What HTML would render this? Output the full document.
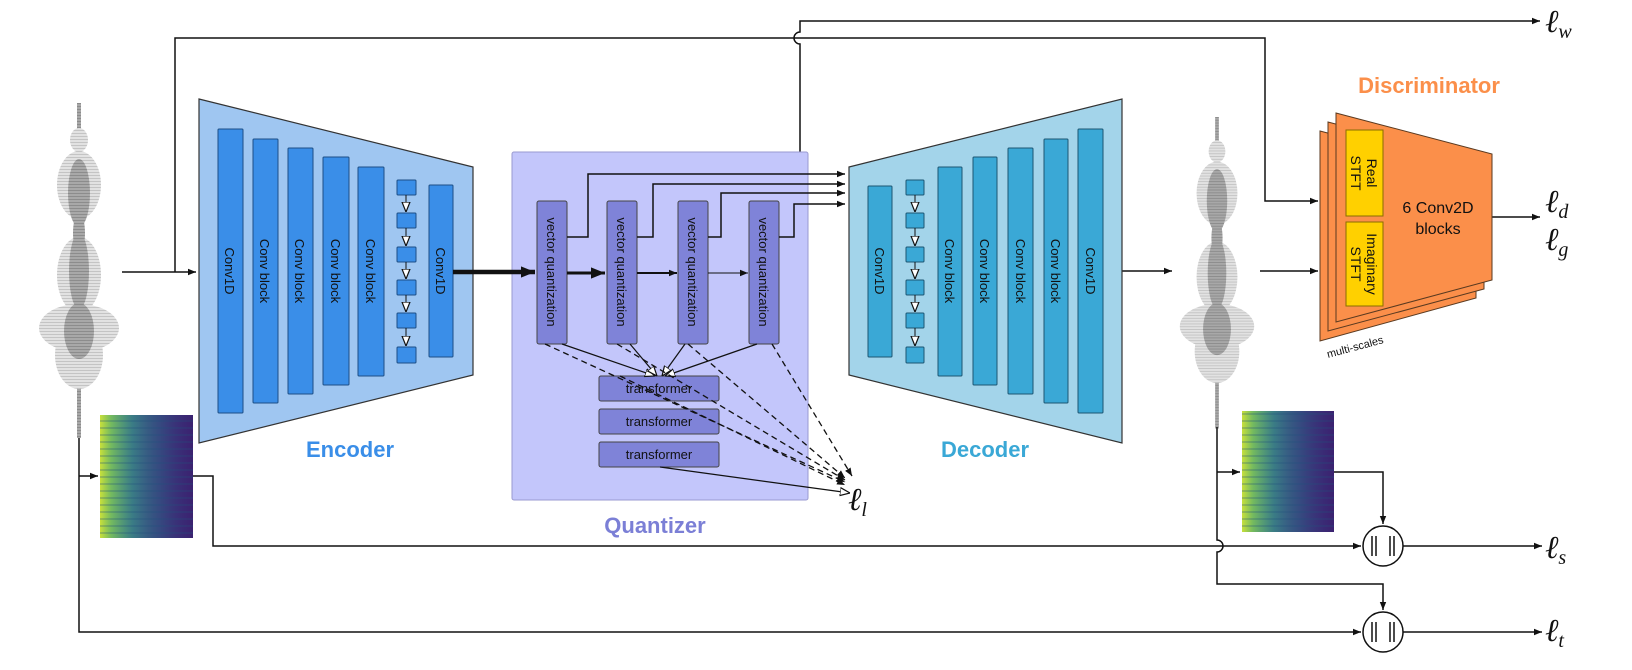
<!DOCTYPE html>
<html><head><meta charset="utf-8"><style>
html,body{margin:0;padding:0;background:#fff;}
svg{display:block;}
.t{font-family:"Liberation Sans",sans-serif;}
.l{font-family:"Liberation Serif",serif;font-style:italic;}
</style></head><body>
<svg width="1632" height="670" viewBox="0 0 1632 670" xmlns="http://www.w3.org/2000/svg">
<defs>
<marker id="a" viewBox="0 0 10 10" refX="10" refY="5" markerWidth="8" markerHeight="8" markerUnits="userSpaceOnUse" orient="auto"><path d="M0,1 L10,5 L0,9 z" fill="#111"/></marker>
<marker id="a2" viewBox="0 0 10 10" refX="10" refY="5" markerWidth="14" markerHeight="14" markerUnits="userSpaceOnUse" orient="auto"><path d="M0,1 L10,5 L0,9 z" fill="#111"/></marker>
<marker id="ah" viewBox="0 0 10 10" refX="10" refY="5" markerWidth="10" markerHeight="10" markerUnits="userSpaceOnUse" orient="auto"><path d="M0,1 L10,5 L0,9 z" fill="#fff" stroke="#111" stroke-width="1.2"/></marker>
<pattern id="st" width="4" height="3" patternUnits="userSpaceOnUse"><rect width="4" height="3" fill="#e2e2e2"/><rect width="4" height="1" fill="#c4c4c4"/></pattern>
<pattern id="st2" width="4" height="3" patternUnits="userSpaceOnUse"><rect width="4" height="3" fill="#a8a8a8"/><rect width="4" height="1" fill="#8c8c8c"/></pattern>
<linearGradient id="sg" x1="0" x2="1" y1="0" y2="0">
<stop offset="0" stop-color="#c8e03a"/><stop offset="0.12" stop-color="#7ccc5a"/><stop offset="0.35" stop-color="#3aa58a"/><stop offset="0.65" stop-color="#2d7f8e"/><stop offset="1" stop-color="#3b3b83"/></linearGradient>
<linearGradient id="sd" x1="0" x2="1" y1="0" y2="0">
<stop offset="0" stop-color="#3b3b83" stop-opacity="0"/><stop offset="0.5" stop-color="#3b2a7a" stop-opacity="0.5"/><stop offset="1" stop-color="#3b1f6e" stop-opacity="0.9"/></linearGradient>
<pattern id="sp" width="10" height="7" patternUnits="userSpaceOnUse"><rect width="10" height="2" fill="#1e4f7a" opacity="0.25"/></pattern>
<g id="wave">
<rect x="-2" y="0" width="4" height="335" fill="url(#st2)"/>
<ellipse cx="0" cy="37" rx="9" ry="12" fill="url(#st)"/>
<ellipse cx="0" cy="82" rx="22" ry="34" fill="url(#st)"/>
<ellipse cx="0" cy="172" rx="22" ry="38" fill="url(#st)"/>
<ellipse cx="0" cy="225" rx="40" ry="24" fill="url(#st)"/>
<ellipse cx="0" cy="252" rx="24" ry="34" fill="url(#st)"/>
<ellipse cx="0" cy="130" rx="6" ry="20" fill="url(#st2)"/>
<ellipse cx="0" cy="90" rx="11" ry="34" fill="url(#st2)"/>
<ellipse cx="0" cy="168" rx="10" ry="38" fill="url(#st2)"/>
<ellipse cx="0" cy="228" rx="15" ry="28" fill="url(#st2)"/>
</g>
</defs>

<use href="#wave" x="79" y="103"/>
<use href="#wave" transform="translate(1217,117) scale(0.93)"/>

<rect x="100" y="415" width="93" height="123" fill="url(#sg)"/>
<rect x="100" y="415" width="93" height="123" fill="url(#sd)"/>
<rect x="100" y="415" width="93" height="123" fill="url(#sp)"/>
<rect x="1242" y="411" width="92" height="121" fill="url(#sg)"/>
<rect x="1242" y="411" width="92" height="121" fill="url(#sd)"/>
<rect x="1242" y="411" width="92" height="121" fill="url(#sp)"/>

<g fill="none" stroke="#111" stroke-width="1.5">
<line x1="122" y1="272" x2="196" y2="272" marker-end="url(#a)"/>
<path d="M175,272 V38 H1265 V201 H1318" marker-end="url(#a)"/>
<path d="M800,152 V44 a6,6 0 0 1 0,-12 V21 H1540" marker-end="url(#a)"/>
<path d="M79,438 V632 H1361" marker-end="url(#a)"/>
<path d="M79,476 H98" marker-end="url(#a)"/>
<path d="M193,476 H213 V546 H1361" marker-end="url(#a)"/>
<path d="M1217,427 V540 a6,6 0 0 1 0,12 V584 H1383 V610" marker-end="url(#a)"/>
<path d="M1217,472 H1240" marker-end="url(#a)"/>
<path d="M1334,472 H1383 V524" marker-end="url(#a)"/>
<path d="M1403,546 H1542" marker-end="url(#a)"/>
<path d="M1403,632 H1542" marker-end="url(#a)"/>
<line x1="1122" y1="271" x2="1172" y2="271" marker-end="url(#a)"/>
<line x1="1260" y1="271" x2="1318" y2="271" marker-end="url(#a)"/>
<line x1="1492" y1="217" x2="1540" y2="217" marker-end="url(#a)"/>
</g>

<polygon points="199,99 473,167 473,375 199,443" fill="#9fc6f1" stroke="#333" stroke-width="1.2"/>
<g fill="#3a8ee8" stroke="#1d4f86" stroke-width="1">
<rect x="218" y="129" width="25" height="284" rx="1"/>
<rect x="253" y="139" width="25" height="264" rx="1"/>
<rect x="288" y="148" width="25" height="246" rx="1"/>
<rect x="323" y="157" width="26" height="228" rx="1"/>
<rect x="358" y="167" width="26" height="209" rx="1"/>
<rect x="429" y="185" width="24" height="172" rx="1"/>
<rect x="397" y="180" width="19" height="15" rx="1"/>
<rect x="397" y="213" width="19" height="15" rx="1"/>
<rect x="397" y="247" width="19" height="15" rx="1"/>
<rect x="397" y="280" width="19" height="15" rx="1"/>
<rect x="397" y="313" width="19" height="15" rx="1"/>
<rect x="397" y="347" width="19" height="16" rx="1"/>
</g>
<g stroke="#111" stroke-width="1" fill="none">
<line x1="406" y1="195" x2="406" y2="212" marker-end="url(#ah)"/>
<line x1="406" y1="228" x2="406" y2="246" marker-end="url(#ah)"/>
<line x1="406" y1="262" x2="406" y2="279" marker-end="url(#ah)"/>
<line x1="406" y1="295" x2="406" y2="312" marker-end="url(#ah)"/>
<line x1="406" y1="328" x2="406" y2="346" marker-end="url(#ah)"/>
</g>
<g class="t" font-size="13" fill="#111">
<text transform="translate(225,271) rotate(90)" text-anchor="middle">Conv1D</text>
<text transform="translate(260,271) rotate(90)" text-anchor="middle">Conv block</text>
<text transform="translate(295,271) rotate(90)" text-anchor="middle">Conv block</text>
<text transform="translate(331,271) rotate(90)" text-anchor="middle">Conv block</text>
<text transform="translate(366,271) rotate(90)" text-anchor="middle">Conv block</text>
<text transform="translate(436,271) rotate(90)" text-anchor="middle">Conv1D</text>
</g>
<text class="t" x="350" y="457" font-size="22" font-weight="bold" fill="#3a8ee8" text-anchor="middle">Encoder</text>

<rect x="512" y="152" width="296" height="348" rx="2" fill="#c3c6fb" stroke="#9a9ad0" stroke-width="1"/>
<text class="t" x="655" y="533" font-size="22" font-weight="bold" fill="#7b7fd6" text-anchor="middle">Quantizer</text>
<line x1="453" y1="272" x2="535" y2="272" stroke="#111" stroke-width="4.5" marker-end="url(#a2)"/>
<g fill="#7f83d8" stroke="#444" stroke-width="1">
<rect x="537" y="201" width="30" height="143" rx="2"/>
<rect x="607" y="201" width="30" height="143" rx="2"/>
<rect x="678" y="201" width="30" height="143" rx="2"/>
<rect x="749" y="201" width="30" height="143" rx="2"/>
<rect x="599" y="376" width="120" height="25" rx="2"/>
<rect x="599" y="409" width="120" height="25" rx="2"/>
<rect x="599" y="442" width="120" height="25" rx="2"/>
</g>
<g class="t" font-size="13" fill="#111">
<text transform="translate(547,272) rotate(90)" text-anchor="middle">vector quantization</text>
<text transform="translate(617,272) rotate(90)" text-anchor="middle">vector quantization</text>
<text transform="translate(688,272) rotate(90)" text-anchor="middle">vector quantization</text>
<text transform="translate(759,272) rotate(90)" text-anchor="middle">vector quantization</text>
<text x="659" y="393" text-anchor="middle">transformer</text>
<text x="659" y="426" text-anchor="middle">transformer</text>
<text x="659" y="459" text-anchor="middle">transformer</text>
</g>
<g stroke="#111" fill="none">
<line x1="567" y1="273" x2="605" y2="273" stroke-width="3" marker-end="url(#a2)"/>
<line x1="637" y1="273" x2="677" y2="273" stroke-width="2" marker-end="url(#a)"/>
<line x1="708" y1="273" x2="748" y2="273" stroke-width="1" marker-end="url(#a)"/>
<g stroke-width="1.5">
<path d="M567,237 H588 V174 H845" marker-end="url(#a)"/>
<path d="M637,237 H653 V184 H845" marker-end="url(#a)"/>
<path d="M708,237 H721 V193 H845" marker-end="url(#a)"/>
<path d="M779,237 H794 V204 H845" marker-end="url(#a)"/>
</g>
<g stroke-width="1.2">
<line x1="562" y1="344" x2="655" y2="376" marker-end="url(#ah)"/>
<line x1="630" y1="344" x2="657" y2="376" marker-end="url(#ah)"/>
<line x1="685" y1="344" x2="662" y2="376" marker-end="url(#ah)"/>
<line x1="757" y1="344" x2="665" y2="376" marker-end="url(#ah)"/>
<line x1="660" y1="467" x2="850" y2="493" marker-end="url(#ah)"/>
</g>
<g stroke-width="1.3" stroke-dasharray="6,4">
<line x1="545" y1="344" x2="845" y2="482" marker-end="url(#a)"/>
<line x1="617" y1="344" x2="845" y2="480" marker-end="url(#a)"/>
<line x1="688" y1="344" x2="845" y2="478" marker-end="url(#a)"/>
<line x1="772" y1="344" x2="852" y2="476" marker-end="url(#a)"/>
<line x1="620" y1="376" x2="845" y2="485" marker-end="url(#a)"/>
</g>
</g>
<text class="l" x="848" y="510" font-size="32" fill="#111">ℓ<tspan font-size="20" dy="6">l</tspan></text>

<polygon points="849,167 1122,99 1122,443 849,375" fill="#a3d4ea" stroke="#333" stroke-width="1.2"/>
<g fill="#3aa8d6" stroke="#1c5673" stroke-width="1">
<rect x="868" y="186" width="24" height="171" rx="1"/>
<rect x="938" y="167" width="24" height="209" rx="1"/>
<rect x="973" y="157" width="24" height="228" rx="1"/>
<rect x="1008" y="148" width="25" height="246" rx="1"/>
<rect x="1044" y="139" width="24" height="264" rx="1"/>
<rect x="1078" y="129" width="25" height="284" rx="1"/>
<rect x="906" y="180" width="18" height="15" rx="1"/>
<rect x="906" y="213" width="18" height="15" rx="1"/>
<rect x="906" y="247" width="18" height="15" rx="1"/>
<rect x="906" y="280" width="18" height="15" rx="1"/>
<rect x="906" y="313" width="18" height="15" rx="1"/>
<rect x="906" y="347" width="18" height="16" rx="1"/>
</g>
<g stroke="#111" stroke-width="1" fill="none">
<line x1="915" y1="195" x2="915" y2="212" marker-end="url(#ah)"/>
<line x1="915" y1="228" x2="915" y2="246" marker-end="url(#ah)"/>
<line x1="915" y1="262" x2="915" y2="279" marker-end="url(#ah)"/>
<line x1="915" y1="295" x2="915" y2="312" marker-end="url(#ah)"/>
<line x1="915" y1="328" x2="915" y2="346" marker-end="url(#ah)"/>
</g>
<g class="t" font-size="13" fill="#111">
<text transform="translate(875,271) rotate(90)" text-anchor="middle">Conv1D</text>
<text transform="translate(945,271) rotate(90)" text-anchor="middle">Conv block</text>
<text transform="translate(980,271) rotate(90)" text-anchor="middle">Conv block</text>
<text transform="translate(1016,271) rotate(90)" text-anchor="middle">Conv block</text>
<text transform="translate(1051,271) rotate(90)" text-anchor="middle">Conv block</text>
<text transform="translate(1086,271) rotate(90)" text-anchor="middle">Conv1D</text>
</g>
<text class="t" x="985" y="457" font-size="22" font-weight="bold" fill="#3aa8d6" text-anchor="middle">Decoder</text>

<text class="t" x="1429" y="93" font-size="22" font-weight="bold" fill="#fb8f4a" text-anchor="middle">Discriminator</text>
<g fill="#fb8f4a" stroke="#5a3a20" stroke-width="1">
<polygon points="1320,131 1476,172 1476,298 1320,341"/>
<polygon points="1328,122 1484,163 1484,289 1328,331"/>
<polygon points="1336,113 1492,154 1492,280 1336,322"/>
</g>
<g fill="#ffd000" stroke="#8a6d00" stroke-width="1">
<rect x="1346" y="130" width="37" height="86"/>
<rect x="1346" y="222" width="37" height="84"/>
</g>
<g class="t" font-size="14" fill="#111" text-anchor="middle">
<text transform="translate(1364,173) rotate(90)"><tspan x="0" dy="-3">Real</tspan><tspan x="0" dy="16">STFT</tspan></text>
<text transform="translate(1364,264) rotate(90)"><tspan x="0" dy="-3">Imaginary</tspan><tspan x="0" dy="16">STFT</tspan></text>
<text x="1438" y="213" font-size="16">6 Conv2D</text>
<text x="1438" y="234" font-size="16">blocks</text>
</g>
<text class="t" transform="translate(1328,358) rotate(-15)" font-size="11" fill="#111">multi-scales</text>

<g stroke="#111" fill="#fff" stroke-width="1.5">
<circle cx="1383" cy="546" r="20"/>
<circle cx="1383" cy="632" r="20"/>
</g>
<g stroke="#111" stroke-width="1.5">
<path d="M1372,536 v20 M1376,536 v20 M1390,536 v20 M1394,536 v20"/>
<path d="M1372,622 v20 M1376,622 v20 M1390,622 v20 M1394,622 v20"/>
</g>

<g class="l" fill="#111" font-size="32">
<text x="1545" y="32">ℓ<tspan font-size="20" dy="6">w</tspan></text>
<text x="1545" y="212">ℓ<tspan font-size="20" dy="6">d</tspan></text>
<text x="1545" y="250">ℓ<tspan font-size="20" dy="6">g</tspan></text>
<text x="1545" y="558">ℓ<tspan font-size="20" dy="6">s</tspan></text>
<text x="1545" y="641">ℓ<tspan font-size="20" dy="6">t</tspan></text>
</g>
</svg>
</body></html>
